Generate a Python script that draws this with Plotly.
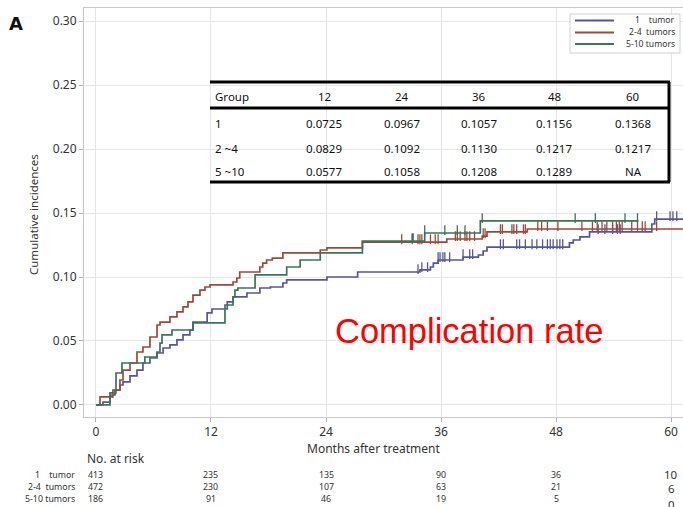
import numpy as np
import plotly.graph_objects as go

# ---------------- data ----------------
series_names = ["1    tumor", "2-4  tumors", "5-10 tumors"]
series_colors = ["#55559f", "#a0473a", "#3a7558"]

blue_t = [0, 0.73, 1.46, 1.98, 2.5, 2.82, 3.55, 4.28, 4.9, 5.63, 6.37, 7.0, 7.72, 8.45, 9.08, 9.8,
          10.12, 11.6, 12.1, 13.7, 14.3, 15.75, 17.1, 18.2, 19.5, 19.9, 24.1, 27.3, 33.8, 34.9,
          35.2, 35.7, 38.3, 39.9, 40.4, 40.8, 49.4, 49.8, 50.5, 51.5, 58.0, 58.3]
blue_y = [0, 0.0023, 0.0078, 0.0117, 0.0156, 0.018, 0.0227, 0.0273, 0.0328, 0.0367, 0.0406, 0.0445,
          0.0469, 0.0508, 0.0547, 0.0586, 0.0648, 0.0719, 0.075, 0.0805, 0.0844, 0.0875, 0.0914,
          0.0922, 0.0953, 0.0977, 0.1, 0.1039, 0.1055, 0.1078, 0.1109, 0.1133, 0.1156, 0.1172,
          0.1203, 0.1234, 0.1266, 0.1289, 0.1313, 0.1352, 0.1414, 0.1453]
blue_end = 61.3
blue_cens = [33.6, 34.0, 34.6, 35.7, 35.9, 36.2, 36.4, 36.9, 38.3, 39.0, 39.3, 42.2, 42.5, 43.9,
             44.2, 44.8, 45.5, 46.0, 46.6, 47.1, 47.4, 47.7, 48.1, 48.4, 48.7, 52.4, 53.1, 53.9,
             54.4, 54.7, 58.5, 59.9, 60.2, 60.6]

red_t = [0, 0.42, 1.77, 2.5, 2.82, 3.55, 4.28, 4.9, 5.63, 6.37, 6.68, 7.72, 8.45, 9.08, 9.6, 10.12,
         10.85, 11.37, 11.9, 14.3, 14.7, 15.0, 17.1, 17.4, 17.8, 18.4, 19.5, 23.4, 24.1, 27.8,
         36.6, 40.3, 40.8, 45.0]
red_y = [0, 0.0063, 0.0117, 0.0195, 0.0273, 0.0328, 0.0414, 0.0453, 0.0531, 0.0625, 0.0648, 0.0688,
         0.0727, 0.0766, 0.0805, 0.0859, 0.0898, 0.0922, 0.0938, 0.0961, 0.0992, 0.1039, 0.1078,
         0.1109, 0.1133, 0.1148, 0.1188, 0.1211, 0.1227, 0.1273, 0.1297, 0.1320, 0.1352, 0.1375]
red_end = 61.3
red_cens = [31.9, 33.0, 33.6, 33.8, 34.0, 34.9, 35.4, 35.7, 37.5, 37.7, 38.0, 38.5, 38.7, 39.0,
            39.5, 40.4, 40.6, 42.2, 42.4, 43.4, 43.6, 43.9, 44.6, 44.8, 46.1, 46.5, 47.1, 48.2,
            50.7, 51.8, 52.3, 52.8, 53.3, 53.9, 54.3, 54.6, 54.9, 55.9, 56.5, 57.0, 57.3, 58.5]

green_t = [0, 1.46, 2.09, 2.71, 5.1, 6.37, 6.68, 6.89, 7.93, 10.12, 13.46, 14.3, 14.5, 14.8, 16.6,
           19.9, 21.3, 23.4, 27.8, 34.3, 40.1]
green_y = [0, 0.0094, 0.025, 0.0328, 0.0375, 0.0414, 0.0484, 0.0547, 0.0586, 0.0641, 0.0781,
           0.0844, 0.0898, 0.0914, 0.1016, 0.1078, 0.1133, 0.1188, 0.1281, 0.1344, 0.1438]
green_end = 56.6
green_cens = [33.0, 33.1, 34.3, 36.4, 37.7, 38.5, 40.3, 50.0, 52.1, 55.2, 56.5]

x_ticks = [0, 12, 24, 36, 48, 60]
y_ticks = [0.0, 0.05, 0.10, 0.15, 0.20, 0.25, 0.30]

table_header = ["Group", "12", "24", "36", "48", "60"]
table_groups = ["1", "2 ~4", "5 ~10"]
table_row1 = ["0.0725", "0.0967", "0.1057", "0.1156", "0.1368"]
table_row2 = ["0.0829", "0.1092", "0.1130", "0.1217", "0.1217"]
table_row3 = ["0.0577", "0.1058", "0.1208", "0.1289", "NA"]

risk_labels = ["1    tumor", "2-4  tumors", "5-10 tumors"]
risk_1 = [413, 235, 135, 90, 36, 10]
risk_2 = [472, 230, 107, 63, 21, 6]
risk_3 = [186, 91, 46, 19, 5, 0]

# ---------------- figure ----------------
W, H = 683, 507
P_L, P_R, P_T, P_B = 84, 683, 8, 417      # plot-area edges in page pixels
ML, MR, MT, MB = P_L, W - P_R, P_T, H - P_B
PW, PH = P_R - P_L, P_B - P_T


def px(x):
    return (x - P_L) / PW


def py(y):
    return (P_B - y) / PH


FONT = "Noto Sans"
TXT = "#333333"

fig = go.Figure()

curves = [
    (blue_t, blue_y, blue_end, blue_cens),
    (red_t, red_y, red_end, red_cens),
    (green_t, green_y, green_end, green_cens),
]
for (t, y, end, cens), name, col in zip(curves, series_names, series_colors):
    xs = list(t) + [end]
    ys = list(y) + [y[-1]]
    fig.add_trace(go.Scatter(x=xs, y=ys, mode="lines", line=dict(color=col, width=1.7, shape="hv"),
                             name=name, showlegend=False))
    idx = np.searchsorted(np.array(t), np.array(cens), side="right") - 1
    cy = [y[i] for i in idx]
    fig.add_trace(go.Scatter(x=cens, y=[v + 0.0022 for v in cy], mode="markers",
                             marker=dict(symbol="line-ns-open", size=7, color=col,
                                         line=dict(color=col, width=1.3)),
                             showlegend=False, hoverinfo="skip"))

annotations = []
shapes = []


def ann(text, x, y, size, xanchor="center", color=TXT, family=FONT, xref="paper", **kw):
    annotations.append(dict(text=text, x=x, y=y, xref=xref, yref="paper", xanchor=xanchor,
                            yanchor="middle", showarrow=False,
                            font=dict(family=family, size=size, color=color), **kw))


# panel letter
ann("<b>A</b>", px(16), py(24), 18, color="#111", family="DejaVu Sans")
# y title
ann("Cumulative incidences", px(33), py(214), 11.5, textangle=-90)
# x title
ann("Months after treatment", px(373), py(449), 12)
# red overlay text
ann("Complication rate", px(469), py(331), 34.5, color="#ff0000", family="Liberation Sans")

# manual legend
shapes.append(dict(type="rect", xref="paper", yref="paper", x0=px(570), x1=px(680),
                   y0=py(53), y1=py(14), line=dict(color="#d0d0d0", width=1),
                   fillcolor="white"))
for i, (name, col) in enumerate(zip(series_names, series_colors)):
    yy = [20.5, 32.5, 44][i]
    shapes.append(dict(type="line", xref="paper", yref="paper", x0=px(575), x1=px(614),
                       y0=py(yy), y1=py(yy), line=dict(color=col, width=2)))
    ann(name.replace(" ", "\u00a0"), px(677), py(yy), 8.6, xanchor="right")

# embedded table
for ty in [82, 108, 182]:
    shapes.append(dict(type="line", xref="paper", yref="paper", x0=px(210), x1=px(670),
                       y0=py(ty), y1=py(ty), line=dict(color="black", width=3)))
shapes.append(dict(type="line", xref="paper", yref="paper", x0=px(669), x1=px(669),
                   y0=py(82), y1=py(182), line=dict(color="black", width=3)))
col_x = [324, 402, 479, 554, 633]
row_y = [123, 148, 172]
ann(table_header[0], px(213), py(97), 11.5, xanchor="left", color="#111")
for cx, h in zip(col_x, table_header[1:]):
    ann(h, px(cx), py(97), 11.5, color="#111")
for ry, g, row in zip(row_y, table_groups, [table_row1, table_row2, table_row3]):
    ann(g, px(213), py(ry), 11.5, xanchor="left", color="#111")
    for cx, v in zip(col_x, row):
        ann(v, px(cx), py(ry), 11.5, color="#111")

# number at risk
ann("No. at risk", px(85), py(459), 12, xanchor="left")
risk_y = [475, 487, 499]
last_y = [474, 489, 504]
for ry, ly, lab, vals in zip(risk_y, last_y, risk_labels, [risk_1, risk_2, risk_3]):
    ann(lab.replace(" ", "\u00a0"), px(77), py(ry), 8.8, xanchor="right")
    for xv, v in zip(x_ticks, vals):
        last = xv == x_ticks[-1]
        ann(str(v), xv, py(ly if last else ry), 11.5 if last else 8.8, xref="x")

fig.update_layout(
    width=W, height=H,
    margin=dict(l=ML, r=MR, t=MT, b=MB, pad=0),
    paper_bgcolor="white", plot_bgcolor="white",
    showlegend=False,
    annotations=annotations, shapes=shapes,
    font=dict(family=FONT, size=12, color=TXT),
    xaxis=dict(range=[-1.25, 61.25], tickvals=x_ticks, showgrid=True, gridcolor="#e6e6e6",
               gridwidth=1, zeroline=False, showline=True, linecolor="#c8c8c8", mirror=True,
               ticks="outside", ticklen=4, tickcolor="#b0b0b0",
               tickfont=dict(family=FONT, size=12, color=TXT)),
    yaxis=dict(range=[-0.0094, 0.3102], tickvals=y_ticks, tickformat=".2f", showgrid=True,
               gridcolor="#e6e6e6", gridwidth=1, zeroline=False, showline=True,
               linecolor="#c8c8c8", mirror=True, ticks="outside", ticklen=4,
               tickcolor="#b0b0b0", tickfont=dict(family=FONT, size=12, color=TXT)),
)

fig.write_html(
    "out.html",
    config={"displayModeBar": False},
    post_script="document.body.style.margin='0';document.body.style.overflow='hidden';",
)
